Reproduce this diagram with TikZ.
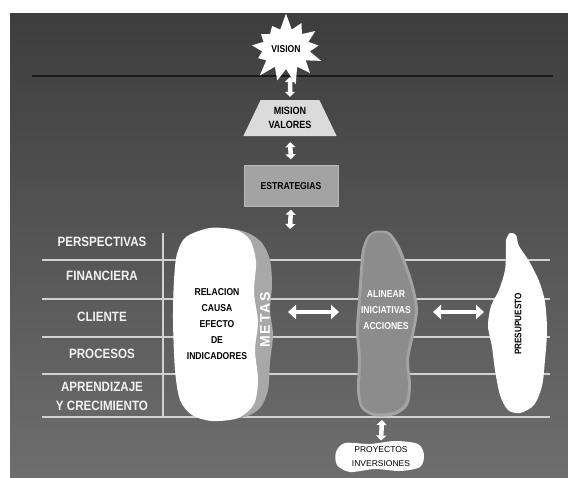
\documentclass[tikz,border=0pt]{standalone}
\usepackage{fontspec}
\setmainfont{Liberation Sans}
\newfontfamily\narrowfont[FakeStretch=0.86]{Liberation Sans}
\newfontfamily\widefont[LetterSpace=14]{Liberation Sans Bold}
\usetikzlibrary{shapes.geometric,shapes.symbols,arrows.meta,positioning}

\begin{document}
\begin{tikzpicture}[x=1pt,y=-1pt,
  lbl/.style={text=black!5,font=\narrowfont\bfseries\fontsize{13.5}{19}\selectfont,align=center},
  blobtxt/.style={font=\narrowfont\bfseries\fontsize{10}{16}\selectfont,align=center},
  small/.style={font=\fontsize{8.5}{14}\selectfont,align=center},
  vdbl/.style={draw=white,line width=4.5pt,{Triangle[width=10pt,length=5pt]}-{Triangle[width=10pt,length=5pt]}},
  hdbl/.style={draw=white,line width=4.5pt,{Triangle[width=14pt,length=8pt]}-{Triangle[width=14pt,length=8pt]}},
  row/.style={draw=black!18,line width=1.2pt}]

\useasboundingbox (0,0) rectangle (568,477);
\shade[top color=black!76,bottom color=black!57] (10,13) rectangle (568,477);
\draw[black!90,line width=1.3pt] (32,76) -- (553,76);

\foreach \y in {260,299,337,374,417}
  \draw[row] (42,\y) -- (550,\y);
\draw[row] (163,233) -- (163,417);

\node[lbl] (persp) at (102,242) {PERSPECTIVAS};
\node[lbl] (fin) at (102,276) {FINANCIERA};
\node[lbl] (cli) at (102,317) {CLIENTE};
\node[lbl] (proc) at (102,354) {PROCESOS};
\node[lbl] (apr) at (102,396) {APRENDIZAJE\\Y CRECIMIENTO};

\node[starburst,starburst points=13,starburst point height=17pt,random starburst=7,
  fill=white,minimum width=82pt,minimum height=74pt,inner sep=0pt,
  font=\narrowfont\bfseries\fontsize{10}{12}\selectfont] (vision) at (286,49) {VISION};

\node[trapezium,trapezium left angle=63,trapezium right angle=63,trapezium stretches=true,
  fill=black!14,minimum width=94pt,minimum height=36pt,align=center,
  font=\narrowfont\bfseries\fontsize{10.5}{14.5}\selectfont] (mision) at (290,118) {MISION\\VALORES};

\node[rectangle,fill=black!36,draw=black!28,minimum width=94pt,minimum height=41pt,
  font=\narrowfont\bfseries\fontsize{10}{12}\selectfont] (estr) at (291,186) {ESTRATEGIAS};

\coordinate (top) at (290,229);
\draw[vdbl] (290,77) -- ([yshift=3pt]mision.north);
\draw[vdbl,shorten <=6pt,shorten >=6pt] (mision.south) -- (estr.north);
\draw[vdbl,shorten <=3pt] (estr.south) -- (top);

\fill[black!34] plot[smooth cycle] coordinates {(228,230) (248,233) (262,243) (270,260)
  (272,285) (270,310) (273,335) (270,362) (268,390) (260,408) (245,417) (225,419)
  (205,415) (200,400) (200,250)};
\fill[white] plot[smooth cycle] coordinates {(210,228) (236,230) (250,240) (256,262)
  (254,292) (258,322) (255,350) (258,380) (254,404) (238,418) (212,421) (192,415)
  (180,400) (175,370) (173,320) (174,280) (177,254) (186,237)};
\node[blobtxt] (causa) at (217,324) {RELACION\\CAUSA\\EFECTO\\DE\\INDICADORES};
\node[rotate=90,text=white,font=\widefont\fontsize{14}{14}\selectfont] (metas) at (265,320) {METAS};

\fill[black!36] plot[smooth cycle] coordinates {(375,231) (389,232) (399,245) (407,265)
  (414,287) (418,310) (414,335) (409,360) (411,385) (408,405) (395,415) (374,416)
  (361,408) (357,390) (358,360) (356,330) (358,300) (360,270) (362,250) (367,237)};
\fill[black!45] plot[smooth cycle] coordinates {(375,233) (387,234) (396,246) (404,266)
  (411,287) (415,310) (411,335) (406,360) (408,385) (405,403) (393,412) (375,413)
  (363,406) (360,390) (361,360) (359,330) (361,300) (363,270) (365,250) (369,238)};
\node[blobtxt,text=white] (alin) at (386,310) {ALINEAR\\INICIATIVAS\\ACCIONES};

\fill[white] plot[smooth cycle] coordinates {(510,233) (516,235) (519,246) (529,261)
  (539,281) (545,302) (547,330) (545,360) (542,386) (534,405) (520,413) (508,410)
  (500,395) (495,370) (492,347) (488,326) (491,306) (499,290) (505,270) (506,250)
  (506,240)};
\node[rotate=90,font=\narrowfont\bfseries\fontsize{9.5}{10}\selectfont] (pres) at (518,324) {PRESUPUESTO};

\coordinate (metasE) at (288,312);
\coordinate (alinW) at (339,312);
\coordinate (alinE) at (433,312);
\coordinate (presW) at (484,312);
\draw[hdbl] (metasE) -- (alinW);
\draw[hdbl] (alinE) -- (presW);

\fill[white] plot[smooth cycle] coordinates {(345,443) (370,444) (395,441) (418,444)
  (424,455) (420,467) (400,471) (375,469) (350,472) (337,465) (336,452)};
\node[small] (proy) at (381,457) {PROYECTOS\\INVERSIONES};
\coordinate (alinS) at (382,420);
\draw[vdbl] (alinS) -- ([yshift=3pt]proy.north);
\end{tikzpicture}
\end{document}
